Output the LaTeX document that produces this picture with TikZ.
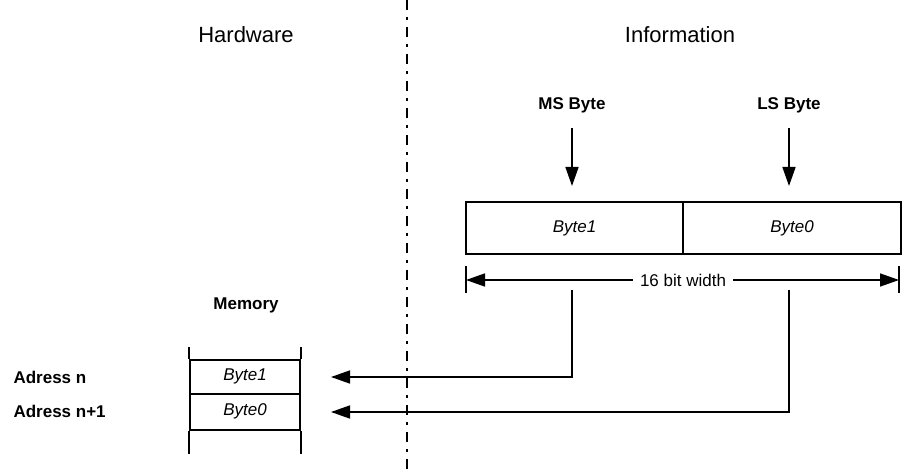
\documentclass[tikz,border=0pt]{standalone}
\usepackage{fontspec}
\setmainfont{Liberation Sans}
\usetikzlibrary{arrows.meta}
\tikzstyle{head}=[font=\fontsize{22}{26}\selectfont]
\tikzstyle{lbl}=[font=\fontsize{17}{20}\selectfont\bfseries]
\tikzstyle{cell}=[draw=black,line width=2pt,inner sep=0pt,
  font=\fontsize{17}{20}\selectfont\itshape]
\tikzstyle{flow}=[line width=1.6pt,-{Triangle[length=19pt,width=13pt]}]
\tikzstyle{none}=[]

\begin{document}
\begin{tikzpicture}[x=1pt,y=-1pt]
            \useasboundingbox (0,0) rectangle (913,470);
            \node [style=head] (1) at (246, 35) {Hardware};
            \node [style=head] (2) at (680, 35) {Information};
            \node [style=lbl] (3) at (572, 105) {MS Byte};
            \node [style=lbl] (4) at (789, 105) {LS Byte};
            \node [style=none] (5) at (572, 128) {};
            \node [style=none] (6) at (789, 128) {};
            \node [style=cell,minimum width=217pt,minimum height=52pt] (7) at (574.5, 228) {Byte1};
            \node [style=cell,minimum width=218pt,minimum height=52pt] (8) at (792, 228) {Byte0};
            \coordinate (9) at (466, 280);
            \coordinate (10) at (899, 280);
            \coordinate (11) at (683, 280);
            \coordinate (12) at (572, 290);
            \coordinate (13) at (789, 290);
            \node [style=lbl] (14) at (246, 305) {Memory};
            \node [style=cell,minimum width=110pt,minimum height=34pt] (15) at (245, 376.5) {Byte1};
            \node [style=cell,minimum width=110pt,minimum height=36pt] (16) at (245, 411.5) {Byte0};
            \coordinate (17) at (331, 377);
            \coordinate (18) at (331, 412);
            \node [style=lbl,anchor=west] (19) at (10, 377) {Adress n};
            \node [style=lbl,anchor=west] (20) at (10, 411) {Adress n+1};
            \coordinate (21) at (407, 0);
            \coordinate (22) at (407, 470);
            \draw [line width=2pt,dash pattern=on 10pt off 7pt on 3pt off 7pt] (21) to (22);
            \draw [style=flow] (5.center) to (572, 186);
            \draw [style=flow] (6.center) to (789, 186);
            \draw [line width=1.6pt,{Triangle[length=19pt,width=13pt]}-{Triangle[length=19pt,width=13pt]}] (9) to (10);
            \node [style=none,fill=white,inner xsep=7pt,inner ysep=2pt,font=\fontsize{17}{20}\selectfont] (23) at (11) {16 bit width};
            \draw [line width=1.6pt] (466, 266) to (466, 293);
            \draw [line width=1.6pt] (899, 266) to (899, 293);
            \draw [style=flow] (12) |- (17);
            \draw [style=flow] (13) |- (18);
            \draw [line width=2pt] (15.north west) to ++(0, -12);
            \draw [line width=2pt] (15.north east) to ++(0, -12);
            \draw [line width=2pt] (16.south west) to ++(0, 23);
            \draw [line width=2pt] (16.south east) to ++(0, 23);
    \end{tikzpicture}
\end{document}
